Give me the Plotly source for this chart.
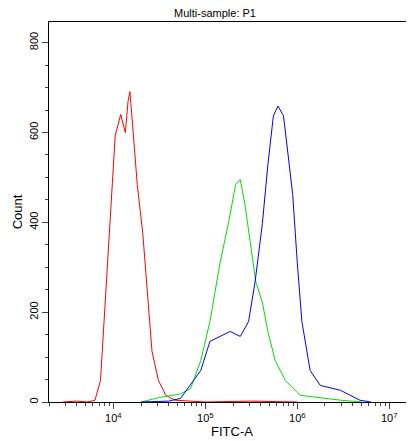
import plotly.graph_objects as go

red_logx = [3.45, 3.6, 3.72, 3.80, 3.86, 3.91, 3.97, 4.02, 4.08, 4.13, 4.16, 4.18, 4.20, 4.22, 4.26, 4.32, 4.38, 4.42, 4.49, 4.57, 4.67, 4.8, 5.0, 5.5, 6.0]
red_y = [0, 2, 0, 4, 48, 222, 441, 593, 640, 600, 670, 691, 640, 593, 484, 375, 222, 113, 48, 15, 4, 2, 0, 2, 0]

green_logx = [4.3, 4.5, 4.73, 4.84, 4.95, 5.05, 5.16, 5.25, 5.33, 5.38, 5.43, 5.49, 5.55, 5.62, 5.68, 5.76, 5.87, 6.03, 6.25, 6.47, 6.7]
green_y = [0, 10, 18, 30, 92, 179, 310, 397, 484, 495, 441, 353, 266, 222, 157, 92, 48, 15, 9, 4, 0]

blue_logx = [4.3, 4.6, 4.73, 4.95, 5.05, 5.16, 5.27, 5.38, 5.47, 5.54, 5.62, 5.68, 5.74, 5.79, 5.85, 5.90, 5.95, 6.00, 6.05, 6.14, 6.25, 6.47, 6.68, 6.8]
blue_y = [0, 2, 8, 70, 135, 146, 157, 146, 179, 266, 397, 528, 637, 659, 637, 550, 462, 310, 179, 70, 37, 26, 4, 0]

fig = go.Figure()
for lx, y, c in [(red_logx, red_y, "red"), (green_logx, green_y, "#00e000"), (blue_logx, blue_y, "blue")]:
    fig.add_trace(go.Scatter(x=[10 ** v for v in lx], y=y, mode="lines",
                             line=dict(color=c, width=1), showlegend=False))

fig.update_layout(
    width=414, height=441, margin=dict(l=41, r=7, t=14, b=47),
    paper_bgcolor="white", plot_bgcolor="white",
    font=dict(family="Liberation Sans, Arial", size=11, color="black"),
    title=dict(text="Multi-sample: P1", x=0.5, y=0.997, xanchor="center", yanchor="top", font=dict(size=11)),
)
fig.update_xaxes(type="log", range=[3.30, 7.28], showgrid=False, showline=True, linecolor="black",
                 mirror=True, ticks="outside", ticklen=6, tickvals=[1e4, 1e5, 1e6, 1e7],
                 ticktext=["10<sup>4</sup>", "10<sup>5</sup>", "10<sup>6</sup>", "10<sup>7</sup>"],
                 minor=dict(ticks="outside", ticklen=3, dtick="D1"),
                 title=dict(text="FITC-A", standoff=0), zeroline=False)
fig.update_yaxes(range=[0, 846], showgrid=False, showline=True, linecolor="black", mirror=True,
                 ticks="outside", ticklen=6, tickvals=[0, 200, 400, 600, 800], tickangle=-90,
                 minor=dict(ticks="outside", ticklen=3, dtick=50),
                 title=dict(text="Count", standoff=2), zeroline=False)
fig.write_html("out.html")
